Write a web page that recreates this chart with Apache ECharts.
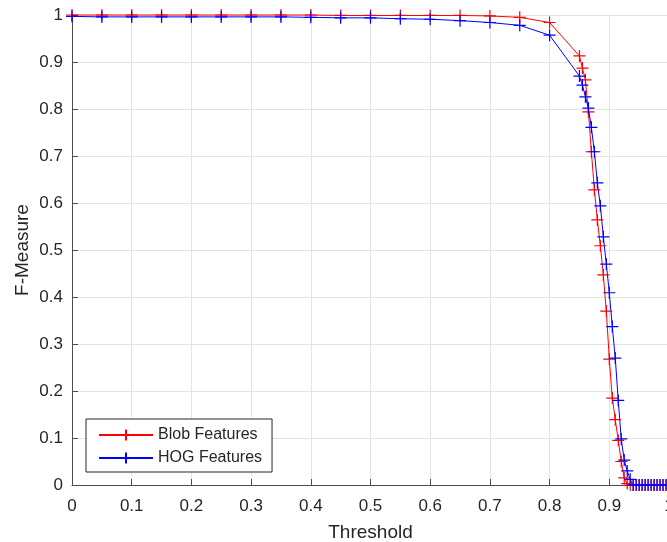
<!DOCTYPE html>
<html>
<head>
<meta charset="utf-8">
<script src="https://cdn.jsdelivr.net/npm/echarts@6/dist/echarts.min.js"></script>
<style>
  html, body { margin: 0; padding: 0; background: #fff; overflow: hidden; }
  #chart { width: 667px; height: 542px; }
</style>
</head>
<body>
<div id="chart"></div>
<script>
// Detection thresholds: coarse sweep then a fine sweep near the drop-off
const thresholds = [
  0, 0.05, 0.1, 0.15, 0.2, 0.25, 0.3, 0.35, 0.4, 0.45, 0.5, 0.55, 0.6, 0.65, 0.7, 0.75, 0.8,
  0.85, 0.855, 0.86, 0.865, 0.87, 0.875, 0.88, 0.885, 0.89, 0.895, 0.9, 0.905, 0.91, 0.915,
  0.92, 0.925, 0.93, 0.935, 0.94, 0.945, 0.95, 0.955, 0.96, 0.965, 0.97, 0.975, 0.98, 0.985,
  0.99, 0.995, 1.0
];

// F-measure for blob-based features
const blobFMeasure = [
  1.0, 1.0, 1.0, 1.0, 1.0, 1.0, 1.0, 1.0, 1.0, 0.999, 0.999, 0.999, 0.999, 0.999, 0.998, 0.995, 0.984,
  0.913, 0.887, 0.862, 0.794, 0.709, 0.628, 0.564, 0.509, 0.447, 0.370, 0.268, 0.185, 0.139, 0.095,
  0.050, 0.015, 0.003, 0, 0, 0, 0, 0, 0, 0, 0, 0, 0, 0,
  0, 0, 0
];

// F-measure for HOG features
const hogFMeasure = [
  0.997, 0.996, 0.996, 0.996, 0.996, 0.996, 0.996, 0.996, 0.995, 0.994, 0.994, 0.992, 0.991, 0.988, 0.984, 0.978, 0.957,
  0.870, 0.851, 0.826, 0.802, 0.761, 0.709, 0.643, 0.594, 0.528, 0.470, 0.409, 0.337, 0.270, 0.180,
  0.098, 0.053, 0.030, 0.012, 0, 0, 0, 0, 0, 0, 0, 0, 0, 0,
  0, 0, 0
];

const xTicks = { min: 0, max: 1, step: 0.1 };
const yTicks = { min: 0, max: 1, step: 0.1 };

const FONT = '"Liberation Sans", Arial, Helvetica, sans-serif';
const TEXT = '#262626';
const PLUS = 'path://M0,-1L0,1M-1,0L1,0';

function pairs(ys) {
  return thresholds.map((t, i) => [t, ys[i]]);
}

function lineSeries(name, color, ys) {
  return {
    name: name,
    type: 'line',
    data: pairs(ys),
    symbol: PLUS,
    symbolSize: 12,
    showAllSymbol: true,
    clip: false,
    lineStyle: { color: color, width: 1 },
    itemStyle: { color: color, borderColor: color, borderWidth: 1.2 },
    emphasis: { disabled: true },
    animation: false
  };
}

const chart = echarts.init(document.getElementById('chart'), null, { renderer: 'canvas' });

const axisCommon = {
  axisLine: { show: true, onZero: false, lineStyle: { color: '#4d4d4d', width: 1 } },
  axisTick: { show: true, inside: true, length: 6, lineStyle: { color: '#4d4d4d' } },
  splitLine: { show: true, lineStyle: { color: '#e3e3e3', width: 1 } },
  nameTextStyle: { fontFamily: FONT, fontSize: 19, color: TEXT },
  nameMoveOverlap: false
};

chart.setOption({
  backgroundColor: '#ffffff',
  animation: false,
  grid: {
    left: 72, top: 15, width: 597, height: 470,
    containLabel: false,
    outerBoundsMode: 'none'
  },
  xAxis: Object.assign({}, axisCommon, {
    type: 'value',
    min: xTicks.min,
    max: xTicks.max,
    interval: xTicks.step,
    name: 'Threshold',
    nameLocation: 'middle',
    nameGap: 38,
    axisLabel: { fontFamily: FONT, fontSize: 17, color: TEXT, margin: 13 }
  }),
  yAxis: Object.assign({}, axisCommon, {
    type: 'value',
    min: yTicks.min,
    max: yTicks.max,
    interval: yTicks.step,
    name: 'F-Measure',
    nameLocation: 'middle',
    nameGap: 40,
    axisLabel: { fontFamily: FONT, fontSize: 17, color: TEXT, margin: 9 }
  }),
  legend: {
    orient: 'vertical',
    left: 86,
    top: 419,
    backgroundColor: '#ffffff',
    borderColor: '#262626',
    borderWidth: 1,
    borderRadius: 0,
    padding: [8, 10, 6, 12],
    itemGap: 7,
    itemWidth: 54,
    itemHeight: 14,
    textStyle: { fontFamily: FONT, fontSize: 16, color: TEXT },
    data: ['Blob Features', 'HOG Features']
  },
  series: [
    lineSeries('Blob Features', '#ff0000', blobFMeasure),
    lineSeries('HOG Features', '#0000ff', hogFMeasure)
  ]
});
</script>
</body>
</html>
